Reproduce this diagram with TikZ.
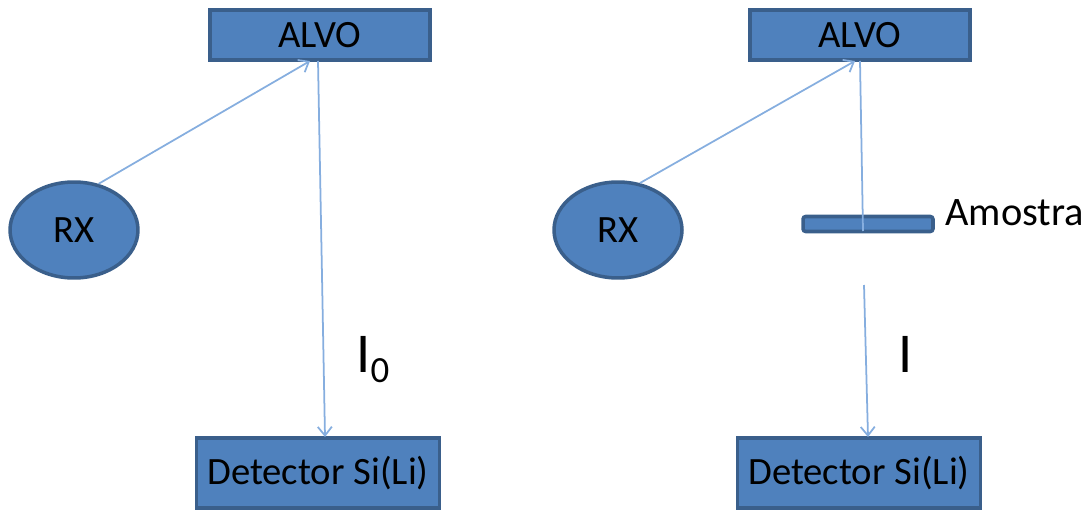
\documentclass[tikz,border=0pt]{standalone}
\usepackage{fontspec}
\setmainfont{Carlito}
\usetikzlibrary{shapes.geometric,arrows.meta}
\definecolor{caixa}{HTML}{4F81BD}
\definecolor{borda}{HTML}{3A5F8B}
\definecolor{raio}{HTML}{86AEDF}

\begin{document}
\begin{tikzpicture}[x=0.02cm, y=-0.02cm, >={Straight Barb[length=5pt,width=8pt]},
  bloco/.style={draw=borda, fill=caixa, line width=2pt, inner sep=0pt, font=\fontsize{22}{24}\selectfont},
  feixe/.style={draw=raio, line width=1pt}]

\useasboundingbox (0,0) rectangle (1085,510);

% montagem sem amostra
\node[bloco, minimum width=4.4cm, minimum height=1cm] at (320, 35) (alvo1) {ALVO};
\node[bloco, ellipse, minimum width=2.56cm, minimum height=1.92cm] at (74, 230) (rx1) {RX};
\node[bloco, minimum width=4.86cm, minimum height=1.4cm] at (318, 473) (det1) {Detector Si(Li)};
\coordinate (a1) at (310, 61);
\coordinate (b1) at (318, 61);
\coordinate (c1) at (325, 437);
\node[anchor=base west, font=\fontsize{32}{34}\selectfont, inner sep=0pt] at (356, 372) (I0) {I\raisebox{-6pt}{\fontsize{21}{23}\selectfont 0}};
    \draw [->, feixe] (rx1.62) -- (a1);
    \draw [->, feixe] (b1) -- (c1);

% montagem com amostra
\node[bloco, minimum width=4.4cm, minimum height=1cm] at (860, 35) (alvo2) {ALVO};
\node[bloco, ellipse, minimum width=2.56cm, minimum height=1.92cm] at (618, 230) (rx2) {RX};
\node[bloco, minimum width=4.86cm, minimum height=1.4cm] at (859, 473) (det2) {Detector Si(Li)};
\node[bloco, minimum width=2.6cm, minimum height=0.3cm, rounded corners=1.5pt] at (868, 224) (amostra) {};
\node[anchor=base west, font=\fontsize{23}{25}\selectfont, inner sep=0pt] at (945, 225) (lbl) {Amostra};
\coordinate (a2) at (855, 61);
\coordinate (b2) at (860, 61);
\coordinate (d2) at (863, 231);
\coordinate (e2) at (864, 285);
\coordinate (c2) at (868, 437);
\node[anchor=base west, font=\fontsize{32}{34}\selectfont, inner sep=0pt] at (898, 372) (I) {I};
    \draw [->, feixe] (rx2.65) -- (a2);
    \draw [feixe] (b2) -- (d2);
    \draw [->, feixe] (e2) -- (c2);
\end{tikzpicture}
\end{document}
